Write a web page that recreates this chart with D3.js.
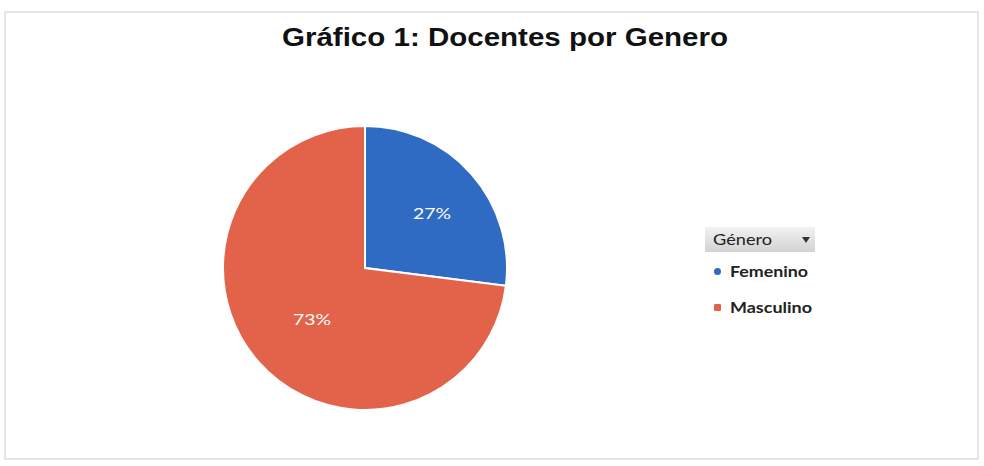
<!DOCTYPE html>
<html>
<head>
<meta charset="utf-8">
<script src="https://cdn.jsdelivr.net/npm/d3@7"></script>
<style>
  body { margin: 0; background: #fff; }
  svg { display: block; }
</style>
</head>
<body>
<script>
var categories = ["Femenino", "Masculino"];
var values = [27, 73];
var colors = ["#2f6bc3", "#e3624a"];

var width = 984;
var height = 466;

var svg = d3.select("body")
            .append("svg")
            .attr("width", width)
            .attr("height", height);

// frame round the chart
svg.append("rect")
   .attr("x", 5).attr("y", 12)
   .attr("width", 973).attr("height", 447)
   .attr("fill", "none")
   .attr("stroke", "#d4d4d4")
   .attr("stroke-width", 1.2);

// title (the scan is wide, so stretch it to the same length)
svg.append("text")
   .attr("x", 505)
   .attr("y", 46)
   .attr("text-anchor", "middle")
   .attr("textLength", 446)
   .attr("lengthAdjust", "spacingAndGlyphs")
   .style("font-family", "'Liberation Sans', Arial, sans-serif")
   .style("font-weight", "bold")
   .style("font-size", "25px")
   .style("fill", "#111")
   .text("Gráfico 1: Docentes por Genero");

var radius = 142;
var g = svg.append("g")
           .attr("transform", "translate(365,268)");

var pie = d3.pie().sort(null).value(function(d) { return d; });
var arc = d3.arc().innerRadius(0).outerRadius(radius);
var labelArc = d3.arc().innerRadius(80).outerRadius(80);

var slices = pie(values);

g.selectAll("path")
 .data(slices)
 .enter()
 .append("path")
 .attr("d", arc)
 .attr("fill", function(d, i) { return colors[i]; })
 .attr("stroke", "#fff")
 .attr("stroke-width", 2);

var labels = g.append("g").attr("transform", "translate(7,-2)");

labels.selectAll("text")
 .data(slices)
 .enter()
 .append("text")
 .attr("transform", function(d) { return "translate(" + labelArc.centroid(d) + ")"; })
 .attr("text-anchor", "middle")
 .attr("dy", ".35em")
 .attr("textLength", 38)
 .attr("lengthAdjust", "spacingAndGlyphs")
 .style("font-family", "Lato, 'Open Sans', sans-serif")
 .style("font-size", "16px")
 .style("fill", "#fff")
 .text(function(d) { return d.data + "%"; });

// legend with the filter button
var legend = svg.append("g").attr("transform", "translate(705,227)");

var grad = svg.append("defs").append("linearGradient")
              .attr("id", "btn").attr("x1", 0).attr("y1", 0).attr("x2", 0).attr("y2", 1);
grad.append("stop").attr("offset", "0%").attr("stop-color", "#f2f2f2");
grad.append("stop").attr("offset", "100%").attr("stop-color", "#d2d2d2");

legend.append("rect")
      .attr("width", 110).attr("height", 25)
      .attr("fill", "url(#btn)");

legend.append("text")
      .attr("x", 8).attr("y", 18)
      .attr("textLength", 59)
      .attr("lengthAdjust", "spacingAndGlyphs")
      .style("font-family", "Lato, 'Open Sans', sans-serif")
      .style("font-size", "16px")
      .style("fill", "#222")
      .text("Género");

legend.append("path")
      .attr("d", "M97,10 L105,10 L101,16 Z")
      .attr("fill", "#333");

var legendWidths = [78, 82];

var items = legend.selectAll("g.item")
                  .data(categories)
                  .enter()
                  .append("g")
                  .attr("class", "item")
                  .attr("transform", function(d, i) { return "translate(0," + (44 + i * 36) + ")"; });

items.append("rect")
     .attr("x", 9).attr("y", -3)
     .attr("width", 7).attr("height", 7)
     .attr("rx", function(d, i) { return i === 0 ? 3.5 : 1; })
     .attr("fill", function(d, i) { return colors[i]; });

items.append("text")
      .attr("x", 25).attr("y", 6)
      .attr("textLength", function(d, i) { return legendWidths[i]; })
      .attr("lengthAdjust", "spacingAndGlyphs")
      .style("font-family", "Lato, 'Open Sans', sans-serif")
      .style("font-size", "16px")
      .style("font-weight", "bold")
      .style("fill", "#222")
      .text(function(d) { return d; });
</script>
</body>
</html>
